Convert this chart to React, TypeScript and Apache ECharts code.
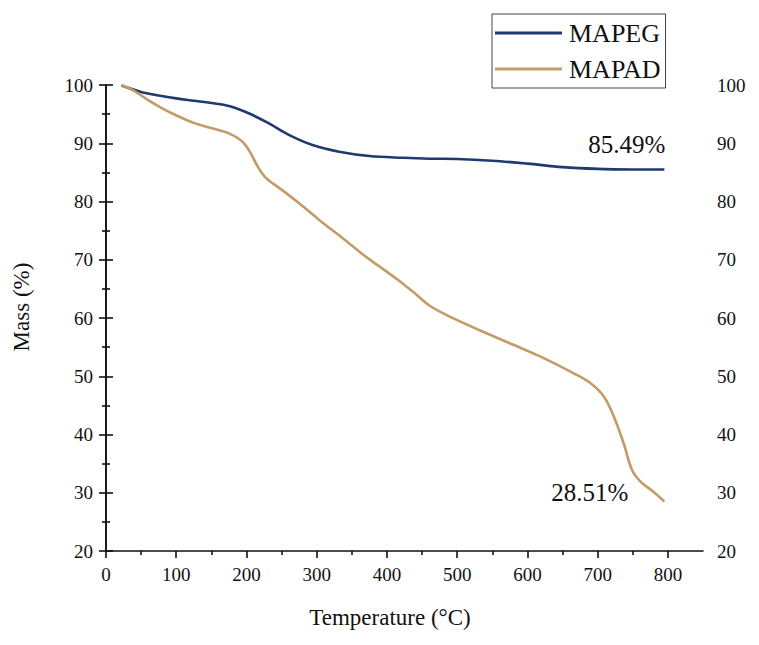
import React, { useEffect, useRef } from "react";
import * as echarts from "echarts";

const seriesNames = ["MAPEG", "MAPAD"];
const endLabels = ["85.49%", "28.51%"];

const mapegT = [22, 50, 75, 100, 125, 150, 175, 204, 232, 261, 294, 332, 375, 423, 461, 500, 550, 600, 650, 700, 750, 795];
const mapegM = [99.9, 98.8, 98.2, 97.7, 97.3, 96.9, 96.4, 95.1, 93.4, 91.4, 89.7, 88.55, 87.8, 87.5, 87.35, 87.3, 87.0, 86.5, 85.9, 85.6, 85.5, 85.49];

const mapadT = [22, 40, 60, 80, 100, 125, 150, 175, 194, 206, 216, 228, 247, 275, 304, 337, 370, 390, 415, 440, 461, 485, 532, 580, 618, 666, 690, 709, 723, 737, 749, 761, 778, 795];
const mapadM = [100, 99.0, 97.4, 96.0, 94.8, 93.5, 92.6, 91.7, 90.3, 88.3, 86.0, 84.0, 82.3, 79.7, 76.8, 73.7, 70.5, 68.8, 66.6, 64.2, 62.1, 60.5, 57.9, 55.4, 53.4, 50.5, 48.8, 46.5, 43.1, 38.5, 33.9, 31.9, 30.3, 28.51];

const xMajorTicks = [0, 100, 200, 300, 400, 500, 600, 700, 800];
const xMinorTicks = [50, 150, 250, 350, 450, 550, 650, 750];

const FONT = "'Liberation Serif', 'DejaVu Serif', serif";
const colors = ["#1f3a70", "#c49b66"];

export default function App() {
  const ref = useRef<HTMLDivElement>(null);

  useEffect(() => {
    if (!ref.current) return;
    const chart = echarts.init(ref.current, null, { renderer: "svg" });

    const seriesData = [
      mapegT.map((t, i) => [t, mapegM[i]]),
      mapadT.map((t, i) => [t, mapadM[i]]),
    ];
    const labelPos = [
      [1, -25],
      [-36, -9],
    ];

    const axisLine = { show: true, lineStyle: { color: "#111", width: 1.6 } };
    const tickStyle = { color: "#111", width: 1.6 };

    chart.setOption({
      animation: false,
      color: colors,
      grid: { left: 106, right: 56, top: 85, bottom: 94, containLabel: false },
      legend: {
        orient: "vertical",
        left: 492,
        top: 14,
        data: seriesNames,
        icon: "rect",
        itemWidth: 67,
        itemHeight: 3,
        itemGap: 10,
        padding: [6, 5, 6, 3],
        borderColor: "#444",
        borderWidth: 1,
        textStyle: { fontFamily: FONT, fontSize: 26, color: "#111", lineHeight: 26, padding: [0, 0, 0, 2] },
      },
      xAxis: [
        {
          type: "value",
          position: "bottom",
          min: 0,
          max: 850,
          interval: 50,
          axisLine,
          axisTick: { show: true, length: 7, customValues: xMajorTicks, lineStyle: tickStyle },
          axisLabel: {
            show: true,
            customValues: xMajorTicks,
            margin: 14,
            fontFamily: FONT,
            fontSize: 19,
            color: "#111",
          },
          splitLine: { show: false },
          name: "Temperature (°C)",
          nameLocation: "middle",
          nameGap: 55,
          nameTextStyle: { fontFamily: FONT, fontSize: 23, color: "#111", padding: [0, 29, 0, 0] },
        },
        {
          type: "value",
          position: "bottom",
          min: 0,
          max: 850,
          interval: 50,
          axisLine: { show: false },
          axisTick: { show: true, length: 4, customValues: xMinorTicks, lineStyle: tickStyle },
          axisLabel: { show: false },
          splitLine: { show: false },
        },
      ],
      yAxis: [
        {
          type: "value",
          position: "left",
          min: 20,
          max: 100,
          interval: 10,
          axisLine,
          axisTick: { show: true, length: 7, lineStyle: tickStyle },
          minorTick: { show: true, splitNumber: 2, length: 4, lineStyle: tickStyle },
          axisLabel: { margin: 13, fontFamily: FONT, fontSize: 19, color: "#111" },
          splitLine: { show: false },
          minorSplitLine: { show: false },
          name: "Mass (%)",
          nameLocation: "middle",
          nameGap: 73,
          nameRotate: 90,
          nameTextStyle: { fontFamily: FONT, fontSize: 23, color: "#111", padding: [0, 0, 0, 22] },
        },
        {
          type: "value",
          position: "right",
          min: 20,
          max: 100,
          interval: 10,
          axisLine,
          axisTick: { show: true, length: 7, lineStyle: tickStyle },
          minorTick: { show: true, splitNumber: 2, length: 4, lineStyle: tickStyle },
          axisLabel: { margin: 14, fontFamily: FONT, fontSize: 19, color: "#111" },
          splitLine: { show: false },
          minorSplitLine: { show: false },
        },
      ],
      series: seriesNames.map((name, i) => {
        const data = seriesData[i];
        const last = data[data.length - 1];
        return {
          name,
          type: "line",
          xAxisIndex: 0,
          yAxisIndex: 0,
          data,
          symbol: "none",
          smooth: 0.35,
          lineStyle: { width: 2.6, color: colors[i] },
          itemStyle: { color: colors[i] },
          markPoint: {
            symbol: "circle",
            symbolSize: 0,
            silent: true,
            data: [
              {
                coord: last,
                label: {
                  show: true,
                  formatter: endLabels[i],
                  position: labelPos[i],
                  align: "right",
                  verticalAlign: "middle",
                  fontFamily: FONT,
                  fontSize: 25,
                  color: "#111",
                },
              },
            ],
          },
        };
      }),
    });

    return () => chart.dispose();
  }, []);

  return (
    <div
      ref={ref}
      style={{ position: "absolute", left: 0, top: 0, width: 759, height: 645, background: "#fff" }}
    />
  );
}
